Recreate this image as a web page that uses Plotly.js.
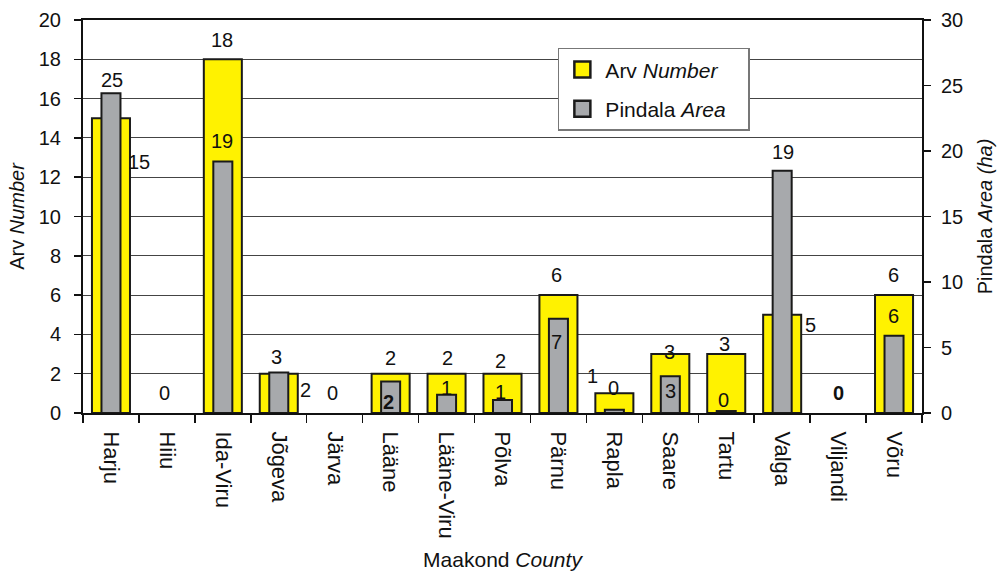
<!DOCTYPE html>
<html>
<head>
<meta charset="utf-8">
<script src="https://cdn.plot.ly/plotly-3.0.1.min.js"></script>
<style>html,body{margin:0;padding:0;background:#fff;}#chart{width:999px;height:571px;}</style>
</head>
<body>
<div id="chart"></div>
<script>
const counties = ['Harju','Hiiu','Ida-Viru','Jõgeva','Järva','Lääne','Lääne-Viru','Põlva','Pärnu','Rapla','Saare','Tartu','Valga','Viljandi','Võru'];
const numberValues = [15,0,18,2,0,2,2,2,6,1,3,3,5,0,6];
const areaValues = [24.4,0,19.2,3.1,0,2.4,1.4,1.0,7.2,0.25,2.8,0.15,18.5,0,5.9];
const numberLabels = ['15','0','18','2','0','2','2','2','6','1','3','3','5','0','6'];
const areaLabels = ['25','','19','3','','2','1','1','7','0','3','0','19','','6'];

// label placement (pixel shifts relative to bar top), layout only
const numShift = [[28,-44],[-2,20],[-1,19],[27,-16],[-2,20],[0,16],[1,16],[-2,13],[-2,20],[-22,17],[-1,2],[-2,10],[28,-10],[0,20],[-1,20]];
const areaShift = [[1,13],null,[-1,20],[-2,15],null,[-2,-20],[0,7],[-2,8],[-2,-23],[-1,22],[0,-15],[-3,11],[1,19],null,[-1,20]];
const boldNum = [false,false,false,false,false,false,false,false,false,false,false,false,false,true,false];
const boldArea = [false,false,false,false,false,true,false,false,false,false,false,false,false,false,false];

const FONT = 'Liberation Sans, Arial, sans-serif';
const FS = 20;
const YELLOW = '#FFF200', GREY = '#A7A9AC', EDGE = '#1a1a1a';
const PAD = '\u00a0\u00a0\u00a0';

const traces = [
  {type:'bar', name:'Arv <i>Number</i>', x:counties, y:numberValues, yaxis:'y', width:0.68, showlegend:false,
   marker:{color:YELLOW, line:{color:EDGE, width:numberValues.map(v=>v>0?2:0)}}},
  {type:'bar', name:'Pindala <i>Area</i>', x:counties, y:areaValues, yaxis:'y2', width:0.34, showlegend:false,
   marker:{color:GREY, line:{color:EDGE, width:areaValues.map(v=>v>0?2:0)}}},
  {type:'scatter', mode:'markers', name:'Arv <i>Number</i>', x:[null], y:[null], yaxis:'y', legendgroup:'a',
   marker:{symbol:'square', size:16, color:YELLOW, line:{color:EDGE, width:2.5}}},
  {type:'scatter', mode:'markers', name:'Pindala <i>Area</i>' + PAD, x:[null], y:[null], yaxis:'y2', legendgroup:'b',
   marker:{symbol:'square', size:16, color:GREY, line:{color:EDGE, width:2.5}}}
];

const annotations = [];
counties.forEach((c,i)=>{
  const t = numberLabels[i];
  if (t !== '') {
    annotations.push({x:c, y:numberValues[i], xref:'x', yref:'y', text: boldNum[i] ? '<b>'+t+'</b>' : t,
      showarrow:false, xanchor:'center', yanchor:'middle', xshift:numShift[i][0], yshift:numShift[i][1],
      font:{family:FONT, size:FS, color:'#111'}});
  }
  const a = areaLabels[i];
  if (a !== '' && areaShift[i]) {
    annotations.push({x:c, y:areaValues[i], xref:'x', yref:'y2', text: boldArea[i] ? '<b>'+a+'</b>' : a,
      showarrow:false, xanchor:'center', yanchor:'middle', xshift:areaShift[i][0], yshift:areaShift[i][1],
      font:{family:FONT, size:FS, color:'#111'}});
  }
});

const layout = {
  width:999, height:571,
  margin:{l:83, r:77, t:20, b:158},
  paper_bgcolor:'#fff', plot_bgcolor:'#fff',
  barmode:'overlay',
  font:{family:FONT, size:FS, color:'#111'},
  showlegend:true,
  legend:{x:0.566, y:0.929, xanchor:'left', yanchor:'top', bgcolor:'#fff', bordercolor:'#777', borderwidth:1.5,
    font:{family:FONT, size:21, color:'#111'}, itemwidth:36, tracegroupgap:9},
  xaxis:{type:'category', showline:true, linecolor:'#111', linewidth:2, mirror:true,
    ticks:'outside', ticklen:8, tickwidth:1.5, tickcolor:'#111', tickson:'boundaries', ticklabelstandoff:12,
    tickangle:90, tickfont:{family:FONT, size:22, color:'#111'}, showgrid:false, automargin:false,
    title:{text:'Maakond <i>County</i>', font:{family:FONT, size:21, color:'#111'}, standoff:20}},
  yaxis:{range:[0,20], dtick:2, showline:true, linecolor:'#111', linewidth:2,
    ticks:'outside', ticklen:7, tickwidth:1.5, tickcolor:'#111', ticklabelstandoff:9,
    showgrid:true, gridcolor:'#444', gridwidth:1,
    zeroline:false, tickfont:{family:FONT, size:FS, color:'#111'}, automargin:false,
    title:{text:'Arv <i>Number</i>', font:{family:FONT, size:FS, color:'#111'}, standoff:9}},
  yaxis2:{range:[0,30], dtick:5, overlaying:'y', side:'right', showline:true, linecolor:'#111', linewidth:2,
    ticks:'outside', ticklen:7, tickwidth:1.5, tickcolor:'#111', ticklabelstandoff:6, showgrid:false, zeroline:false,
    tickfont:{family:FONT, size:FS, color:'#111'}, automargin:false,
    title:{text:'Pindala <i>Area (ha)</i>', font:{family:FONT, size:FS, color:'#111'}, standoff:16}},
  annotations:annotations
};

Plotly.newPlot('chart', traces, layout, {displayModeBar:false, staticPlot:true});
</script>
</body>
</html>
